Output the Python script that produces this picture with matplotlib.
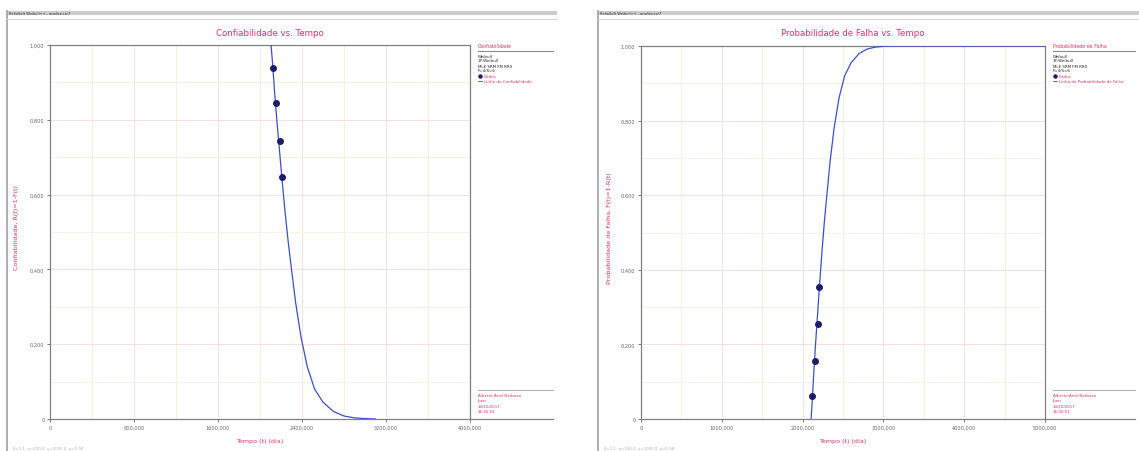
import matplotlib
matplotlib.use("Agg")
import matplotlib.pyplot as plt
from matplotlib.lines import Line2D
from matplotlib.patches import Rectangle
import numpy as np

W, H = 1139, 452

# ---------------- data ----------------
# failure data points (time, reliability)
data_time = [2120, 2150, 2188, 2207]
data_R = [0.938, 0.844, 0.744, 0.647]
data_F = [0.062, 0.156, 0.256, 0.353]

# reliability line (time, R)
line_time = [2105, 2120, 2140, 2160, 2185, 2210, 2240, 2270, 2300, 2340,
             2390, 2450, 2520, 2600, 2700, 2800, 2900, 3000, 3100]
line_R = [1.000, 0.950, 0.870, 0.800, 0.720, 0.640, 0.550, 0.470, 0.400, 0.310,
          0.220, 0.140, 0.080, 0.045, 0.020, 0.008, 0.003, 0.001, 0.000]
# unreliability line (time, F)
fline_time = line_time + [5000]
fline_F = [1 - r for r in line_R] + [1.0]

y_ticks = [0, 0.2, 0.4, 0.6, 0.8, 1.0]
y_labels = ["0", "0,200", "0,400", "0,600", "0,800", "1,000"]
xl_ticks = [0, 800, 1600, 2400, 3200, 4000]
xl_labels = ["0", "800,000", "1600,000", "2400,000", "3200,000", "4000,000"]
xr_ticks = [0, 1000, 2000, 3000, 4000, 5000]
xr_labels = ["0", "1000,000", "2000,000", "3000,000", "4000,000", "5000,000"]

RED = "#e0306a"
BLUE = "#3a4fd0"
NAVY = "#1c1c6a"
FRAME = "#808080"
MAJ = "#f8dada"
MIN = "#ecf5dc"

fig = plt.figure(figsize=(W / 100, H / 100), dpi=100)
fig.patch.set_facecolor("white")


def fx(x):
    return x / W


def fy(y):
    return 1 - y / H


def hline(x0, x1, y, color="#9a9a9a", lw=1.0):
    fig.add_artist(Line2D([fx(x0), fx(x1)], [fy(y), fy(y)], color=color, lw=lw))


def vline(x, y0, y1, color="#9a9a9a", lw=1.0):
    fig.add_artist(Line2D([fx(x), fx(x)], [fy(y0), fy(y1)], color=color, lw=lw))


def text(x, y, s, **kw):
    fig.text(fx(x), fy(y), s, **kw)


def panel(x0, x1, ax_l, ax_r, ax_t, ax_b, title, ylabel, xticks, xlabels,
          xmax, ydata, ylinex, yliney, legtitle, linelabel, ylab_x):
    # window frame
    vline(x0, 12, 452, color="#a0a0a0", lw=1.2)
    fig.add_artist(Rectangle((fx(x0), fy(16)), fx(x1) - fx(x0), 4 / H,
                             facecolor="#cccccc", edgecolor="none"))
    text(x0 + 2, 14, "ReliaSoft Weibull++ - analise.rsr7", fontsize=2.6,
         color="#333333", va="center")
    hline(x0, x1, 20, color="#d6d6d6", lw=0.8)

    ax = fig.add_axes([fx(ax_l), fy(ax_b), fx(ax_r) - fx(ax_l), (ax_b - ax_t) / H])
    ax.set_xlim(0, xmax)
    ax.set_ylim(0, 1)
    # grid
    step = xticks[1] - xticks[0]
    for xv in np.arange(step / 2, xmax, step):
        ax.axvline(xv, color=MIN, lw=0.6, zorder=0)
    for xv in xticks[1:-1]:
        ax.axvline(xv, color=MAJ, lw=0.6, zorder=0)
    for yv in np.arange(0.1, 1.0, 0.2):
        ax.axhline(yv, color=MIN, lw=0.6, zorder=0)
    for yv in y_ticks[1:-1]:
        ax.axhline(yv, color=MAJ, lw=0.6, zorder=0)

    ax.plot(ylinex, yliney, color=BLUE, lw=0.9, zorder=3)
    ax.plot(data_time, ydata, "o", color=NAVY, ms=4.0, zorder=4)

    ax.set_xticks(xticks)
    ax.set_xticklabels(xlabels, fontsize=3.6, color="#666666")
    ax.set_yticks(y_ticks)
    ax.set_yticklabels(y_labels, fontsize=3.6, color="#666666")
    ax.tick_params(length=2, width=0.6, color="#666666", pad=2)
    for s in ax.spines.values():
        s.set_color(FRAME)
        s.set_linewidth(0.9)

    text((ax_l + ax_r) / 2 + 10, 33, title, fontsize=6.2, color=RED,
         ha="center", va="center")
    text((ax_l + ax_r) / 2, 442, "Tempo (t) (dia)", fontsize=4.6, color=RED,
         ha="center", va="center")
    fig.text(fx(ylab_x), fy(228), ylabel, fontsize=4.6, color=RED,
             rotation=90, ha="center", va="center")
    text(x0 + 6, 449, "β=1,1; η=190,0; γ=2095,0; ρ=0,98", fontsize=2.8,
         color="#b0b0b0", va="center")

    # right legend
    lx = ax_r + 8
    text(lx, 47, legtitle, fontsize=3.4, color=RED, va="center")
    hline(lx, x1 - 4, 52, color="#8a8a8a", lw=0.8)
    for i, s in enumerate(["Weibull", "3P-Weibull", "MLE SRM FM RRX", "F=4/S=6"]):
        text(lx, 56.5 + i * 5, s, fontsize=2.9, color="#222222", va="center")
    fig.add_artist(Line2D([fx(lx + 2)], [fy(77)], marker="o", ms=2.2,
                          color=NAVY, lw=0))
    text(lx + 6, 77, "Dados", fontsize=2.9, color=RED, va="center")
    fig.add_artist(Line2D([fx(lx), fx(lx + 4)], [fy(82), fy(82)], color=BLUE, lw=0.6))
    text(lx + 6, 82, linelabel, fontsize=2.9, color=RED, va="center")

    # bottom-right legend
    hline(lx, x1 - 4, 391, color="#b0b0b0", lw=0.8)
    for i, s in enumerate(["Alberto Ariel Barbosa", "Ipen", "14/10/2017", "16:40:51"]):
        text(lx, 396 + i * 5.5, s, fontsize=2.9, color=RED, va="center")
    hline(ax_r, x1 - 4, ax_b, color=FRAME, lw=0.9)


panel(7, 557, 50, 470, 46, 420, "Confiabilidade vs. Tempo",
      "Confiabilidade, R(t)=1-F(t)", xl_ticks, xl_labels, 4000,
      data_R, line_time, line_R, "Confiabilidade",
      "Linha de Confiabilidade", 17)

panel(598, 1139, 641, 1045, 47, 420, "Probabilidade de Falha vs. Tempo",
      "Probabilidade de Falha, F(t)=1-R(t)", xr_ticks, xr_labels, 5000,
      data_F, fline_time, fline_F, "Probabilidade de Falha",
      "Linha de Probabilidade de Falha", 610)

fig.savefig("out.png", dpi=100)
